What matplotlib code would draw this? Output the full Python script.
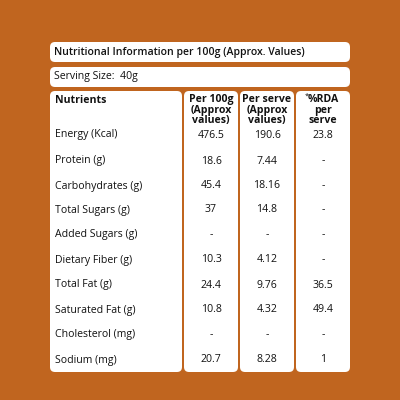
import matplotlib
matplotlib.use("Agg")
import matplotlib.pyplot as plt
from matplotlib.patches import FancyBboxPatch

title = "Nutritional Information per 100g (Approx. Values)"
serving = "Serving Size:  40g"
headers = ["Nutrients", "Per 100g\n(Approx\nvalues)", "Per serve\n(Approx\nvalues)", "%RDA\nper\nserve"]
nutrients = ["Energy (Kcal)", "Protein (g)", "Carbohydrates (g)", "Total Sugars (g)", "Added Sugars (g)",
             "Dietary Fiber (g)", "Total Fat (g)", "Saturated Fat (g)", "Cholesterol (mg)", "Sodium (mg)"]
per100 = ["476.5", "18.6", "45.4", "37", "-", "10.3", "24.4", "10.8", "-", "20.7"]
perserve = ["190.6", "7.44", "18.16", "14.8", "-", "4.12", "9.76", "4.32", "-", "8.28"]
rda = ["23.8", "-", "-", "-", "-", "-", "36.5", "49.4", "-", "1"]

bg = "#C0651F"
fig = plt.figure(figsize=(4, 4), dpi=100, facecolor=bg)
ax = fig.add_axes([0, 0, 1, 1])
ax.set_xlim(0, 400); ax.set_ylim(400, 0); ax.axis("off")

def box(x0, y0, x1, y1):
    ax.add_patch(FancyBboxPatch((x0 + 3, y0 + 3), x1 - x0 - 6, y1 - y0 - 6,
                                boxstyle="round,pad=3,rounding_size=5", fc="white", ec="none"))

box(50, 42, 350, 62)
box(50, 67, 350, 87)
cols = [(50, 182), (184, 238), (240, 294), (296, 350)]
for c in cols:
    box(c[0], 91, c[1], 372)

fam = ['Open Sans', 'DejaVu Sans']
fs = 7.6
ax.text(54, 52, title, fontsize=fs, fontweight='semibold', va='center', family=fam, color='#111')
ax.text(54, 77, serving, fontsize=fs, va='center', family=fam, color='#111')
ax.text(55, 95, headers[0], fontsize=fs, fontweight='bold', va='top', family=fam, color='#111')
for i in range(1, 4):
    cx = (cols[i][0] + cols[i][1]) / 2
    ax.text(cx, 94, headers[i], fontsize=fs, fontweight='bold', va='top', ha='center',
            family=fam, color='#111', linespacing=0.95)
ax.text(307, 93, "*", fontsize=5.5, va='top', ha='center', family=fam, color='#111')

ys = [135, 161, 186, 210, 235, 260, 285, 310, 335, 360]
for y, n, a, b, r in zip(ys, nutrients, per100, perserve, rda):
    ax.text(55, y, n, fontsize=fs, va='center', family=fam, color='#111')
    for i, v in zip(range(1, 4), (a, b, r)):
        cx = (cols[i][0] + cols[i][1]) / 2
        ax.text(cx, y, v, fontsize=fs, va='center', ha='center', family=fam, color='#111')

fig.savefig("out.png", dpi=100, facecolor=bg)
